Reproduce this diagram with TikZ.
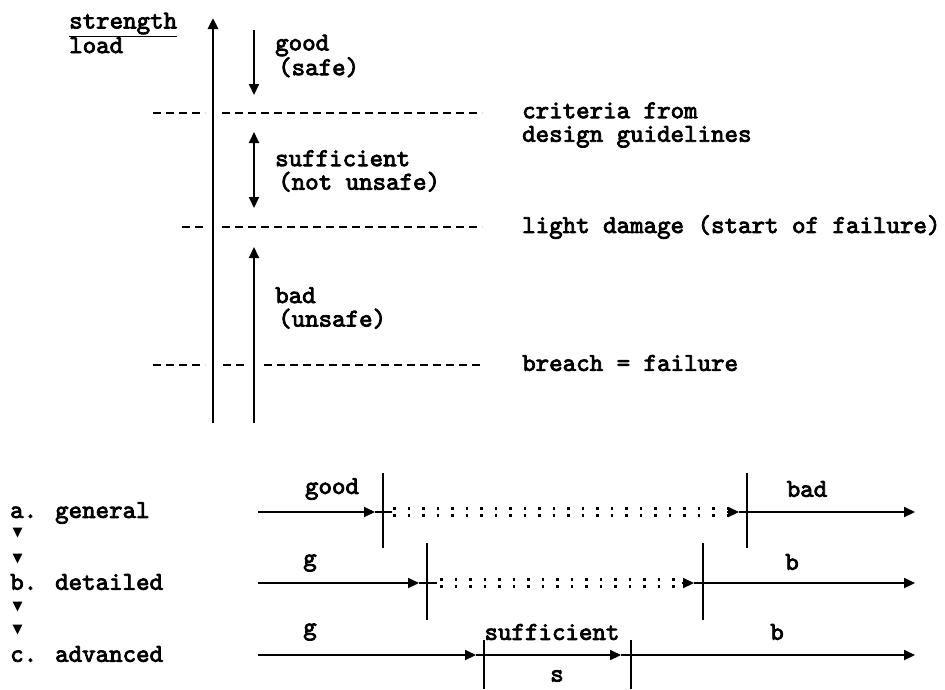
\documentclass[tikz,border=0pt]{standalone}
\usepackage{fontspec}
\newfontfamily\courfont{lmmono10-regular.otf}[FakeBold=3]
\newfontfamily\symfont{DejaVu Sans}
\usetikzlibrary{arrows.meta}

\begin{document}
\begin{tikzpicture}[x=1pt,y=-1pt,>={Triangle[width=10pt,length=11pt]},
  txt/.style={font=\courfont\fontsize{25.7}{23.5}\selectfont,inner sep=0pt,anchor=west,align=left},
  lvl/.style={line width=1.9pt,dash pattern=on 8pt off 5pt},
  ax/.style={line width=2.8pt},
  rng/.style={line width=2pt},
  tick/.style={line width=2.6pt},
  dots/.style={line width=2.8pt,dash pattern=on 2.8pt off 11.7pt},
  tri/.style={font=\symfont\fontsize{13}{13}\selectfont,inner sep=0pt}]
  \useasboundingbox (0,0) rectangle (945,689);

  % strength / load scale
  \node[txt](str) at (69,33){\underline{strength}\\load};
  \draw[ax,->](213,423)--(213,18);
  \draw[rng,->](254,30)--(254,95);
  \draw[rng,<->](254,132)--(254,208);
  \draw[rng,->](254,423)--(254,247);
  \node[txt](good) at (275,56){good\\\hspace*{3pt}(safe)};
  \node[txt](suff) at (275,171){sufficient\\\hspace*{3pt}(not unsafe)};
  \node[txt](bad) at (275,308){bad\\\hspace*{3pt}(unsafe)};

  % levels
  \draw[lvl](153,113)--(205,113) (222,113)--(482,113);
  \draw[lvl](182,227)--(205,227) (222,227)--(482,227);
  \draw[lvl](153,365)--(205,365) (223,365)--(247,365) (264,365)--(482,365);
  \node[txt](crit) at (522,125){criteria from\\design guidelines};
  \node[txt](light) at (522,227){light damage (start of failure)};
  \node[txt](breach) at (522,363){breach = failure};

  % design levels
  \node[txt](gen) at (10,513){a. general};
  \node[tri](v1) at (17.5,533){▼};
  \node[tri](v2) at (17.5,559){▼};
  \node[txt](det) at (10,582){b. detailed};
  \node[tri](v3) at (17.5,607){▼};
  \node[tri](v4) at (17.5,630){▼};
  \node[txt](adv) at (10,654){c. advanced};

  % a. general
  \draw[rng,->](258,512)--(375,512);
  \draw[rng](375,512)--(392,512);
  \foreach \d in {-3.5,3.5}
    \draw[dots](393,512+\d)--(730,512+\d);
  \draw[rng,->](727,512)--(739,512);
  \draw[rng,->](739,512)--(915,512);
  \draw[tick](383,473)--(383,548);
  \draw[tick](747,473)--(747,548);
  \node[txt,anchor=center](lgood) at (332,489){good};
  \node[txt,anchor=center](lbad) at (807,489){bad};

  % b. detailed
  \draw[rng,->](258,583)--(419,583);
  \draw[rng](419,583)--(437,583);
  \foreach \d in {-3.5,3.5}
    \draw[dots](440,583+\d)--(684,583+\d);
  \draw[rng,->](682,583)--(694,583);
  \draw[rng,->](694,583)--(915,583);
  \draw[tick](427,543)--(427,620);
  \draw[tick](703,543)--(703,620);
  \node[txt,anchor=center](lg1) at (310,563){g};
  \node[txt,anchor=center](lb1) at (792,562){b};

  % c. advanced
  \draw[rng,->](258,655)--(476,655);
  \draw[rng,->](476,655)--(621,655);
  \draw[rng,->](621,655)--(915,655);
  \draw[tick](484,640)--(484,689);
  \draw[tick](631,640)--(631,689);
  \node[txt,anchor=center](lg2) at (310,632){g};
  \node[txt,anchor=center](lsuf) at (552,632){sufficient};
  \node[txt,anchor=center](ls) at (557,676){s};
  \node[txt,anchor=center](lb2) at (777,632){b};
\end{tikzpicture}
\end{document}
